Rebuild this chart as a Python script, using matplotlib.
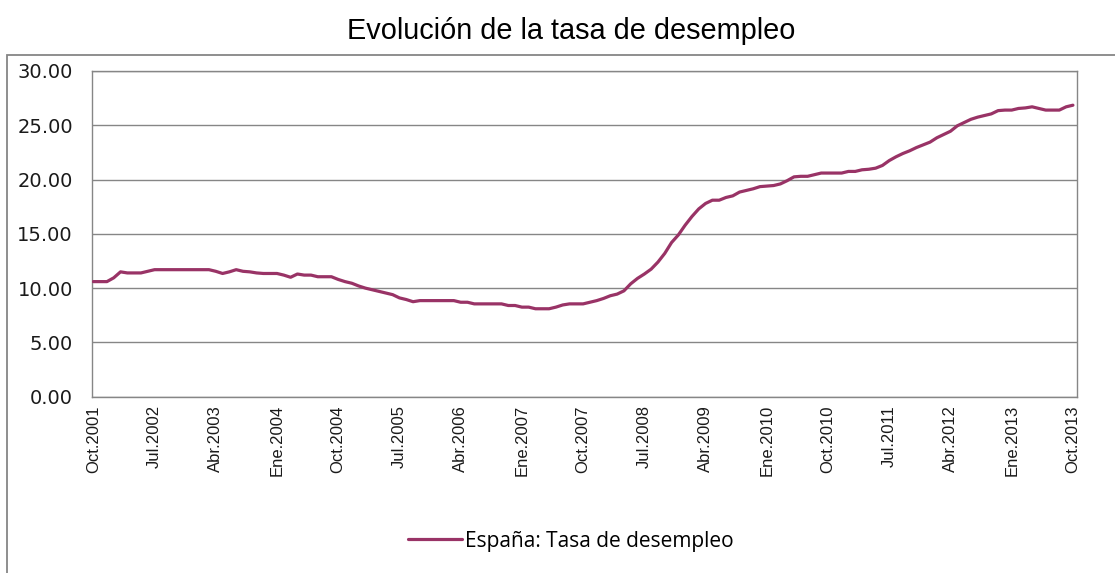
import matplotlib
matplotlib.use("Agg")
import matplotlib.pyplot as plt
from matplotlib import font_manager
from matplotlib.patches import Rectangle

# ---- data (monthly, Oct.2001 .. Oct.2013) ----
tasa_desempleo = [
    10.6, 10.6, 10.6, 10.95, 11.5, 11.4, 11.4, 11.4, 11.55, 11.7,
    11.7, 11.7, 11.7, 11.7, 11.7, 11.7, 11.7, 11.7, 11.55, 11.35,
    11.5, 11.7, 11.55, 11.5, 11.4, 11.35, 11.35, 11.35, 11.2, 11.0,
    11.3, 11.2, 11.2, 11.05, 11.05, 11.05, 10.8, 10.6, 10.45, 10.2,
    10.0, 9.85, 9.7, 9.55, 9.4, 9.1, 8.95, 8.75, 8.85, 8.85,
    8.85, 8.85, 8.85, 8.85, 8.7, 8.7, 8.55, 8.55, 8.55, 8.55,
    8.55, 8.4, 8.4, 8.25, 8.25, 8.1, 8.1, 8.1, 8.25, 8.45,
    8.55, 8.55, 8.55, 8.7, 8.85, 9.05, 9.3, 9.45, 9.75, 10.4,
    10.9, 11.3, 11.75, 12.4, 13.2, 14.2, 14.9, 15.8, 16.6, 17.3,
    17.8, 18.1, 18.1, 18.35, 18.5, 18.85, 19.0, 19.15, 19.35, 19.4,
    19.45, 19.6, 19.9, 20.25, 20.3, 20.3, 20.45, 20.6, 20.6, 20.6,
    20.6, 20.75, 20.75, 20.9, 20.95, 21.05, 21.3, 21.75, 22.1, 22.4,
    22.65, 22.95, 23.2, 23.45, 23.85, 24.15, 24.45, 24.95, 25.25, 25.55,
    25.75, 25.9, 26.05, 26.35, 26.4, 26.4, 26.55, 26.6, 26.7, 26.55,
    26.4, 26.4, 26.4, 26.7, 26.85,
]
tick_labels = ["Oct.2001", "Jul.2002", "Abr.2003", "Ene.2004", "Oct.2004",
               "Jul.2005", "Abr.2006", "Ene.2007", "Oct.2007", "Jul.2008",
               "Abr.2009", "Ene.2010", "Oct.2010", "Jul.2011", "Abr.2012",
               "Ene.2013", "Oct.2013"]
y_ticks = [0, 5, 10, 15, 20, 25, 30]
title = "Evolución de la tasa de desempleo"
series_name = "España: Tasa de desempleo"

# ---- fonts ----
names = {f.name for f in font_manager.fontManager.ttflist}
narrow = "Liberation Sans Narrow" in names
if narrow:
    title_font, title_size = ["Liberation Sans Narrow", "DejaVu Sans"], 25
    xt_font, xt_size = ["Liberation Sans Narrow", "DejaVu Sans"], 13.5
else:
    title_font, title_size = ["Liberation Sans", "DejaVu Sans"], 20.8
    xt_font, xt_size = ["Liberation Sans", "DejaVu Sans"], 12

W, H = 1115, 573
fig = plt.figure(figsize=(W / 100, H / 100), dpi=100)
fig.patch.set_facecolor("white")

left, right, top, bottom = 92.3, 1077, 71, 396.7
ax = fig.add_axes([left / W, 1 - bottom / H, (right - left) / W, (bottom - top) / H])

x = list(range(len(tasa_desempleo)))
ax.plot(x, tasa_desempleo, color="#993366", lw=2.3, solid_joinstyle="round",
        solid_capstyle="round", label=series_name, zorder=3)

grid_c = "#868686"
ax.set_ylim(0, 30)
ax.set_yticks(y_ticks)
ax.set_yticklabels([f"{v:.2f}" for v in y_ticks], fontsize=14,
                   family=["DejaVu Sans"], color="#1a1a1a")
ax.yaxis.grid(True, color=grid_c, lw=1.0)
ax.set_axisbelow(True)

ax.set_xlim(-0.15, 144.6)
ax.set_xticks(list(range(0, len(tasa_desempleo), 9)))
ax.set_xticklabels(tick_labels, rotation=90, fontsize=xt_size, family=xt_font,
                   color="#1a1a1a", va="top", ha="center")
ax.tick_params(axis="both", length=0)
ax.tick_params(axis="y", pad=14)
ax.tick_params(axis="x", pad=6)
for s in ax.spines.values():
    s.set_color(grid_c)
    s.set_linewidth(1.0)

# outer chart frame
fig.patches.append(Rectangle((7 / W, -0.05), 1.1, 1 - 55 / H + 0.05,
                             transform=fig.transFigure, fill=False,
                             edgecolor=grid_c, lw=1.3, clip_on=False))

fig.text(571 / W, 1 - 39 / H, title, ha="center", va="baseline",
         fontsize=title_size, family=title_font, color="black")

fig.legend(loc="center", bbox_to_anchor=(571 / W, 1 - 541 / H), frameon=False,
           prop={"family": ["Open Sans", "DejaVu Sans"], "size": 15},
           handlelength=2.6, handletextpad=0.15, borderaxespad=0)

fig.savefig("out.png", dpi=100, facecolor="white")
